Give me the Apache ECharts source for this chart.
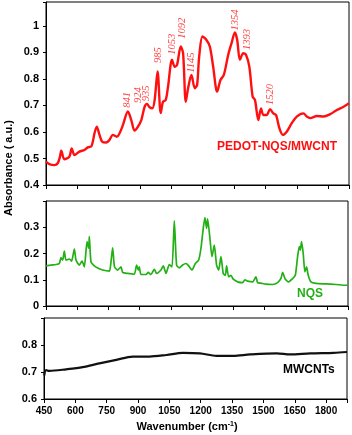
<!DOCTYPE html>
<html><head><meta charset="utf-8">
<script src="https://cdn.jsdelivr.net/npm/echarts@6/dist/echarts.min.js"></script>
<style>html,body{margin:0;padding:0;background:#fff}#c{width:352px;height:435px}</style>
</head><body><div id="c"></div>
<script>
const xTicks = [450, 600, 750, 900, 1050, 1200, 1350, 1500, 1650, 1800];
const wnRed = [450,466,490,506,517,523,538,562,573,586,610,634,650,666,674,682,693,706,719,738,754,770,789,802,818,842,858,874,890,906,922,933,946,959,970,984,999,1010,1023,1034,1053,1066,1077,1095,1106,1119,1130,1146,1162,1173,1183,1199,1218,1234,1250,1269,1285,1301,1322,1338,1354,1365,1378,1394,1407,1423,1439,1450,1466,1479,1490,1506,1522,1538,1551,1567,1583,1602,1626,1650,1682,1698,1714,1746,1778,1810,1842,1874,1900];
const absRed = [0.488,0.479,0.475,0.482,0.507,0.529,0.497,0.507,0.538,0.513,0.526,0.532,0.542,0.545,0.563,0.595,0.620,0.589,0.563,0.560,0.570,0.589,0.582,0.595,0.626,0.677,0.645,0.605,0.620,0.645,0.695,0.706,0.693,0.689,0.721,0.828,0.671,0.714,0.721,0.771,0.872,0.846,0.853,0.922,0.897,0.714,0.765,0.815,0.765,0.777,0.884,0.960,0.947,0.922,0.846,0.752,0.796,0.815,0.891,0.935,0.975,0.947,0.872,0.897,0.891,0.846,0.733,0.721,0.645,0.689,0.664,0.664,0.686,0.670,0.664,0.614,0.589,0.601,0.633,0.658,0.670,0.658,0.652,0.660,0.658,0.667,0.683,0.695,0.708];
const wnGreen = [450,474,498,514,522,530,538,546,562,573,586,594,610,623,634,647,655,658,666,682,698,722,754,762,770,779,794,810,818,842,874,885,893,898,906,930,941,954,970,981,1002,1013,1026,1042,1055,1066,1077,1090,1106,1122,1135,1151,1167,1183,1194,1205,1213,1221,1226,1237,1247,1258,1269,1279,1290,1301,1311,1317,1327,1338,1349,1370,1394,1405,1418,1442,1458,1466,1482,1506,1538,1562,1578,1586,1599,1615,1631,1647,1658,1666,1671,1677,1685,1693,1701,1709,1722,1746,1794,1842,1890,1900];
const absGreen = [0.153,0.156,0.158,0.162,0.184,0.175,0.209,0.175,0.179,0.171,0.217,0.175,0.156,0.171,0.149,0.245,0.220,0.264,0.168,0.153,0.145,0.137,0.133,0.168,0.222,0.149,0.137,0.149,0.128,0.124,0.121,0.156,0.137,0.149,0.120,0.120,0.128,0.120,0.140,0.124,0.137,0.153,0.124,0.158,0.149,0.324,0.156,0.145,0.156,0.162,0.153,0.137,0.162,0.175,0.220,0.296,0.337,0.296,0.332,0.258,0.188,0.232,0.156,0.137,0.188,0.124,0.117,0.153,0.111,0.117,0.102,0.092,0.089,0.100,0.095,0.092,0.111,0.089,0.087,0.083,0.082,0.089,0.105,0.128,0.102,0.092,0.102,0.117,0.188,0.226,0.213,0.245,0.200,0.130,0.149,0.117,0.092,0.086,0.084,0.082,0.079,0.079];
const wnBlack = [451,460,475,556,635,715,796,875,955,1036,1115,1196,1276,1356,1436,1564,1628,1724,1836,1900];
const absBlack = [0.687,0.707,0.704,0.710,0.718,0.732,0.745,0.757,0.757,0.763,0.771,0.769,0.760,0.760,0.765,0.769,0.765,0.769,0.771,0.774];
const peakNames = ['841','924','935','985','1053','1092','1145','1354','1393','1520'];
const peakWn = [837,891,931,986,1054,1102,1147,1356,1412,1521];
const peakAbs = [0.691,0.709,0.716,0.860,0.891,0.951,0.823,0.983,0.909,0.702];

const zip = (a, b) => a.map((v, i) => [v, b[i]]);
const FONT = '"Liberation Sans", Arial, sans-serif';
const RED = '#ff1010', GREEN = '#22b014';

function xAx(i, labels) {
  return {
    type: 'value', gridIndex: i, min: 450, max: 1900, interval: 150,
    axisLine: { show: true, lineStyle: { color: '#000', width: 1 } },
    axisTick: { show: true, inside: false, length: 4, lineStyle: { color: '#000' } },
    axisLabel: { show: labels, color: '#000', fontFamily: FONT, fontWeight: 'bold', fontSize: 10, margin: 7,
      formatter: v => (xTicks.indexOf(v) >= 0 ? String(v) : '') },
    splitLine: { show: false }
  };
}
function yAx(i, min, max, top) {
  return {
    type: 'value', gridIndex: i, min: min, max: max, interval: 0.1,
    axisLine: { show: true, lineStyle: { color: '#000', width: 1 } },
    axisTick: { show: true, inside: false, length: 3, lineStyle: { color: '#000' } },
    axisLabel: { color: '#000', fontFamily: FONT, fontWeight: 'bold', fontSize: 11, margin: 7,
      formatter: v => (v > top + 1e-6 ? '' : String(Math.round(v * 10) / 10)) },
    splitLine: { show: false }
  };
}

const chart = echarts.init(document.getElementById('c'), null, { renderer: 'canvas' });
chart.setOption({
  animation: false,
  backgroundColor: '#fff',
  grid: [
    { left: 46, right: 3, top: 2, height: 183, show: true, borderColor: '#000', borderWidth: 1 },
    { left: 46, right: 4, top: 201, height: 105, show: true, borderColor: '#000', borderWidth: 1 },
    { left: 44, right: 5, top: 318, height: 81, show: true, borderColor: '#000', borderWidth: 1 }
  ],
  xAxis: [xAx(0, false), xAx(1, false), xAx(2, true)],
  yAxis: [yAx(0, 0.4, 1.09, 1.0), yAx(1, 0, 0.4, 0.3), yAx(2, 0.6, 0.9, 0.8)],
  series: [
    { type: 'line', xAxisIndex: 0, yAxisIndex: 0, data: zip(wnRed, absRed), showSymbol: false, smooth: 0.3,
      lineStyle: { color: RED, width: 2.4 } },
    { type: 'line', xAxisIndex: 1, yAxisIndex: 1, data: zip(wnGreen, absGreen), showSymbol: false, smooth: 0.2,
      lineStyle: { color: GREEN, width: 1.7 } },
    { type: 'line', xAxisIndex: 2, yAxisIndex: 2, data: zip(wnBlack, absBlack), showSymbol: false, smooth: 0.3,
      lineStyle: { color: '#111', width: 2.2 } },
    { type: 'scatter', xAxisIndex: 0, yAxisIndex: 0, symbolSize: 1, itemStyle: { color: 'rgba(0,0,0,0)' },
      data: peakNames.map((n, i) => ({ name: n, value: [peakWn[i], peakAbs[i]] })),
      label: { show: true, position: 'inside', rotate: 90, align: 'left', verticalAlign: 'middle',
        formatter: p => p.name, color: RED, fontFamily: '"Liberation Serif", "Times New Roman", serif',
        fontStyle: 'italic', fontSize: 10.5 } }
  ],
  graphic: [
    { type: 'text', left: 217, top: 141, style: { text: 'PEDOT-NQS/MWCNT', fill: RED, font: 'bold 12px ' + FONT } },
    { type: 'text', left: 297, top: 288, style: { text: 'NQS', fill: GREEN, font: 'bold 12px ' + FONT } },
    { type: 'text', left: 283, top: 364, style: { text: 'MWCNTs', fill: '#000', font: 'bold 12px ' + FONT } },
    { type: 'text', x: 8.5, y: 168, rotation: Math.PI / 2,
      style: { text: 'Absorbance ( a.u.)', fill: '#000', font: 'bold 11px ' + FONT, align: 'center', verticalAlign: 'middle' } },
    { type: 'text', x: 187, y: 427,
      style: { text: '{a|Wavenumber (cm}{s|-1}{a|)}', align: 'center', verticalAlign: 'middle',
        rich: { a: { fill: '#000', font: 'bold 11px ' + FONT }, s: { fill: '#000', font: 'bold 7px ' + FONT, verticalAlign: 'top', padding: [0, 0, 6, 0] } } } }
  ]
});
</script></body></html>
